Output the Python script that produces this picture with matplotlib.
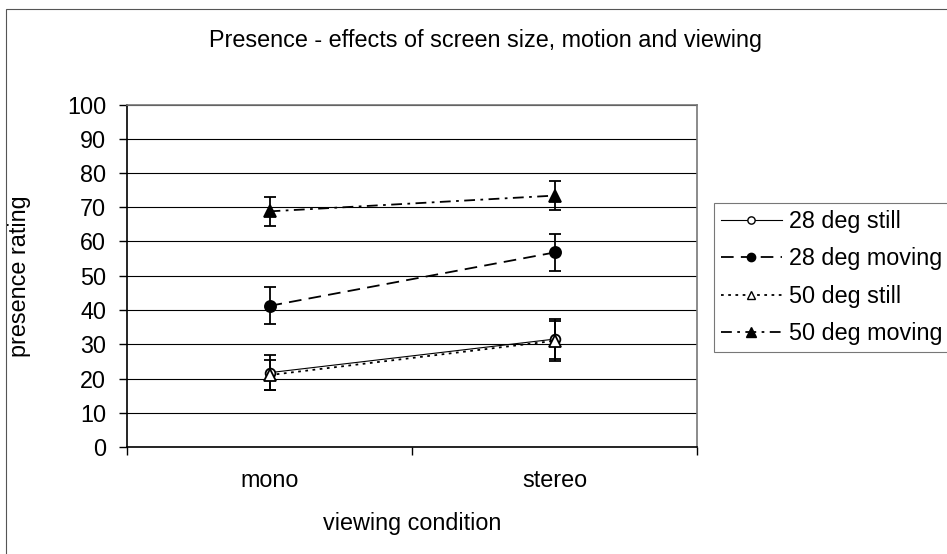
import numpy as np
import matplotlib
matplotlib.use("Agg")
import matplotlib.pyplot as plt
from matplotlib.patches import Rectangle
from matplotlib.lines import Line2D

plt.rcParams['font.family'] = ['Liberation Sans', 'DejaVu Sans']

# data
conditions = ["mono", "stereo"]
series_names = ["28 deg still", "28 deg moving", "50 deg still", "50 deg moving"]
still_28 = [21.7, 31.5]
still_28_err = [5.2, 5.8]
moving_28 = [41.2, 56.8]
moving_28_err = [5.4, 5.3]
still_50 = [21.0, 31.0]
still_50_err = [4.4, 5.8]
moving_50 = [68.8, 73.4]
moving_50_err = [4.2, 4.2]

fs = 16.8

fig = plt.figure(figsize=(9.47, 5.54), dpi=100)
fig.patches.append(Rectangle((6 / 947, -0.5), 2.0, 1.5 - 9 / 554,
                             transform=fig.transFigure, fill=False,
                             edgecolor='#555555', linewidth=0.8))

ax = fig.add_axes([127 / 947, 1 - 447 / 554, 570 / 947, 342.5 / 554])
x = np.arange(len(conditions))

styles = [
    dict(ls='-', lw=0.8, marker='o', mfc='white', ms=7),
    dict(ls=(0, (7, 4)), lw=1.3, marker='o', mfc='black', ms=8),
    dict(ls=(0, (1.5, 2.5)), lw=1.3, marker='^', mfc='white', ms=8),
    dict(ls=(0, (6, 3, 1.5, 3)), lw=1.3, marker='^', mfc='black', ms=9),
]
vals = [still_28, moving_28, still_50, moving_50]
errs = [still_28_err, moving_28_err, still_50_err, moving_50_err]

handles = []
for name, v, e, st in zip(series_names, vals, errs, styles):
    ax.errorbar(x, v, yerr=e, color='black', mec='black', mew=1.3,
                ecolor='black', elinewidth=1.3, capsize=4, capthick=1.3,
                **st)
    leg_st = dict(st)
    leg_st['ms'] = st['ms'] * 0.75
    handles.append(Line2D([], [], color='black', mec='black', mew=1.0,
                          label=name, **leg_st))

ax.set_xlim(-0.5, 1.5)
ax.set_ylim(0, 100)
ax.set_yticks(np.arange(0, 101, 10))
ax.yaxis.grid(True, color='black', linewidth=0.8)
ax.set_axisbelow(True)

ax.set_xticks([-0.5, 0.5, 1.5])
ax.set_xticklabels([])
ax.set_xticks(x, minor=True)
ax.set_xticklabels(conditions, minor=True)
ax.tick_params(axis='x', which='minor', length=0, pad=16, labelsize=fs)
ax.tick_params(axis='x', which='major', length=6, width=1, direction='out')
ax.tick_params(axis='y', length=6, width=1, direction='out', pad=9, labelsize=fs)

for side in ['top', 'right']:
    ax.spines[side].set_color('#777777')
    ax.spines[side].set_linewidth(1.2)
for side in ['left', 'bottom']:
    ax.spines[side].set_linewidth(1.2)

ax.set_ylabel("presence rating", fontsize=fs)
ax.yaxis.set_label_coords(-0.168, 0.5)
ax.set_xlabel("viewing condition", fontsize=fs)
ax.xaxis.set_label_coords(0.5, -0.19)

fig.text(485 / 947, 1 - 40 / 554, "Presence - effects of screen size, motion and viewing",
         ha='center', va='center', fontsize=fs)

leg = ax.legend(handles=handles, loc='upper left',
                bbox_to_anchor=(714 / 947, 1 - 203 / 554),
                bbox_transform=fig.transFigure, fontsize=fs, frameon=True,
                fancybox=False, edgecolor='#555555', handlelength=2.6,
                handletextpad=0.3, labelspacing=0.62, borderpad=0.3,
                borderaxespad=0)
leg.get_frame().set_linewidth(0.8)

fig.savefig("out.png", dpi=100)
